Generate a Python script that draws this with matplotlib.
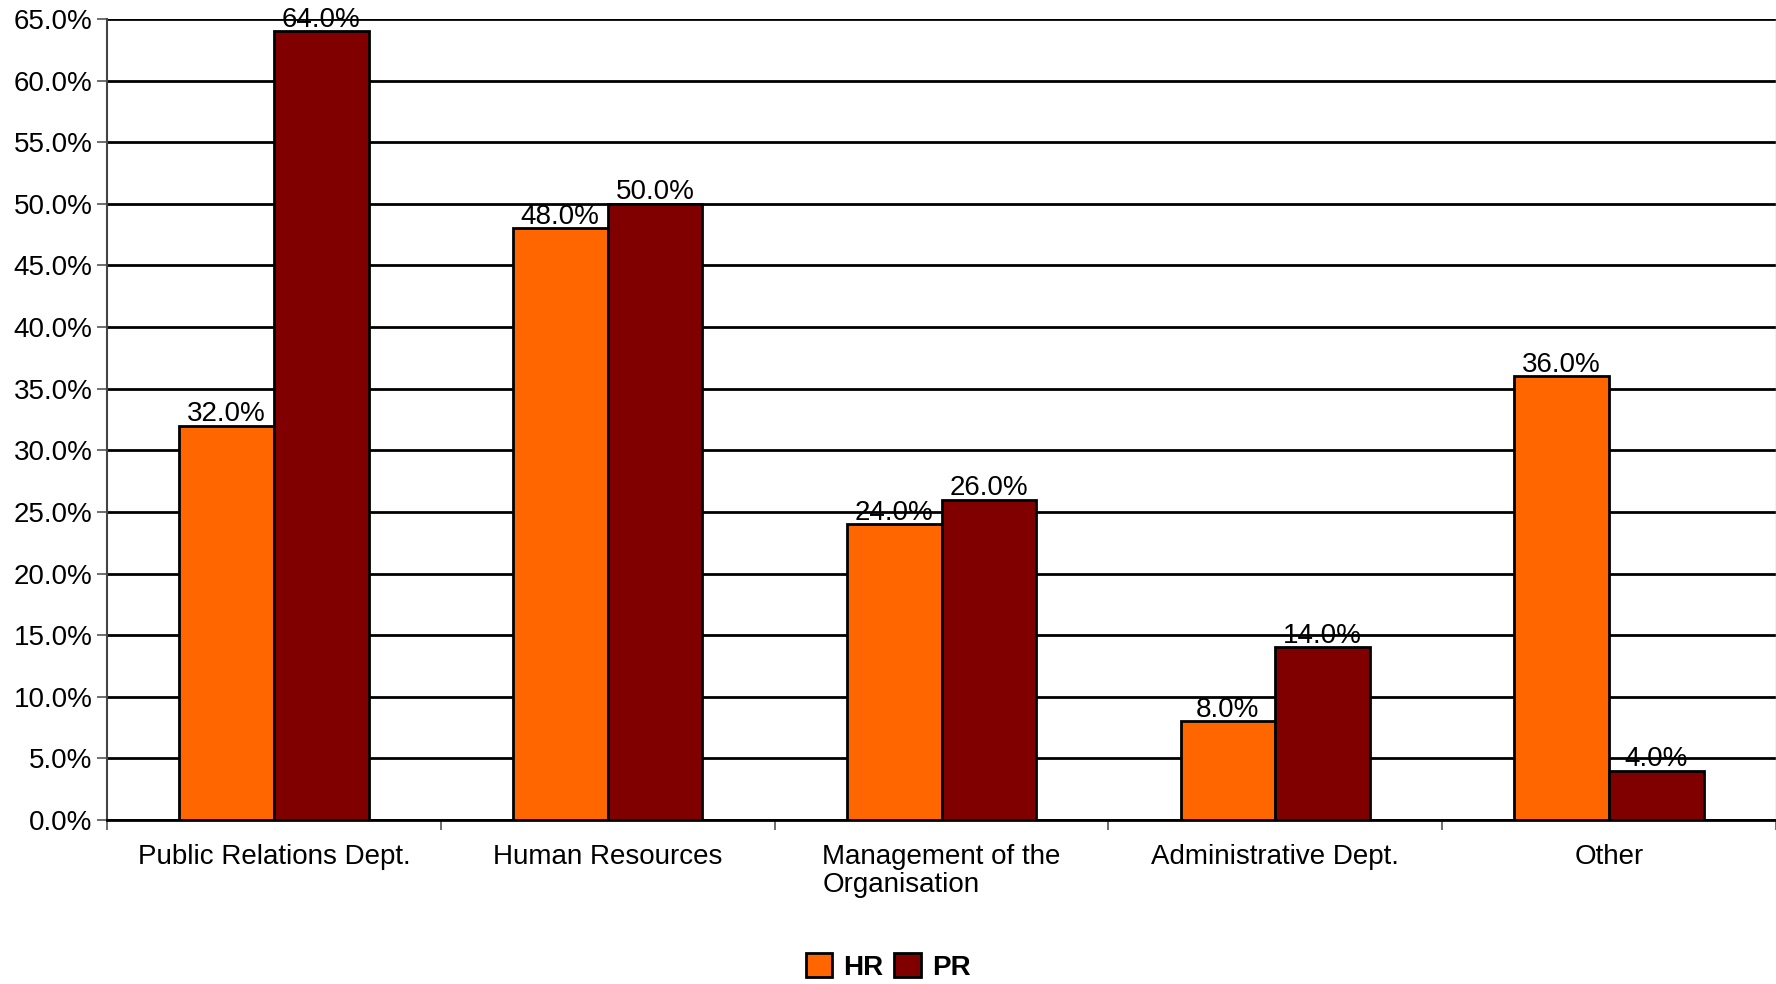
import matplotlib
matplotlib.use("Agg")
import matplotlib.pyplot as plt
from matplotlib.ticker import FixedLocator, FuncFormatter
import numpy as np

categories = ["Public Relations Dept.", "Human Resources", "Management of the\nOrganisation",
              "Administrative Dept.", "Other"]
hr_values = [32.0, 48.0, 24.0, 8.0, 36.0]
pr_values = [64.0, 50.0, 26.0, 14.0, 4.0]
series_names = ["HR", "PR"]
y_ticks = np.arange(0, 66, 5)

plt.rcParams["font.family"] = ["Liberation Sans", "DejaVu Sans"]
FS = 20

fig = plt.figure(figsize=(17.76, 9.84), dpi=100)
ax = fig.add_axes([107 / 1776, 164 / 984, 1 - 107 / 1776, (820 - 19) / 984])

x = np.arange(len(categories))
width = 0.284
colors = ["#FF6600", "#800000"]
for i, (vals, name, col) in enumerate(zip([hr_values, pr_values], series_names, colors)):
    pos = x + (i - 0.5) * width
    bars = ax.bar(pos, vals, width, color=col, edgecolor="black", linewidth=2,
                  label=name, zorder=3)
    for b, v in zip(bars, vals):
        ax.annotate(f"{v:.1f}%", (b.get_x() + b.get_width() / 2, v),
                    xytext=(0, -1), textcoords="offset points",
                    ha="center", va="bottom", fontsize=FS, zorder=4)

ax.set_xlim(-0.5, len(categories) - 0.5)
ax.set_ylim(0, 65)
ax.yaxis.set_major_locator(FixedLocator(y_ticks))
ax.yaxis.set_major_formatter(FuncFormatter(lambda v, p: f"{v:.1f}%"))
ax.tick_params(axis="y", labelsize=FS, length=7.5, width=1.2, color="#555555", pad=3)
ax.grid(axis="y", color="black", linewidth=2, zorder=1)
ax.set_axisbelow(True)

# category boundaries carry the x tick marks; labels sit at the centres
ax.set_xticks(np.arange(-0.5, len(categories), 1.0))
ax.set_xticklabels([])
ax.set_xticks(x, minor=True)
ax.set_xticklabels(categories, minor=True, fontsize=FS, multialignment="left",
                   linespacing=1.1)
ax.tick_params(axis="x", which="major", length=7.5, width=1.2, color="#555555")
ax.tick_params(axis="x", which="minor", length=0, pad=17)

ax.spines["left"].set_color("#444444")
ax.spines["left"].set_linewidth(1.5)
ax.spines["bottom"].set_color("black")
ax.spines["bottom"].set_linewidth(2)
ax.spines["top"].set_visible(False)
ax.spines["right"].set_color("#bbbbbb")
ax.spines["right"].set_linewidth(1)

leg = fig.legend(loc="center", bbox_to_anchor=(0.5, 1 - 967 / 984), ncol=2,
                 frameon=False, prop={"size": FS, "weight": "bold"},
                 handlelength=0.95, handleheight=0.95, handletextpad=0.4,
                 columnspacing=0.4)

fig.savefig("out.png", dpi=100)
